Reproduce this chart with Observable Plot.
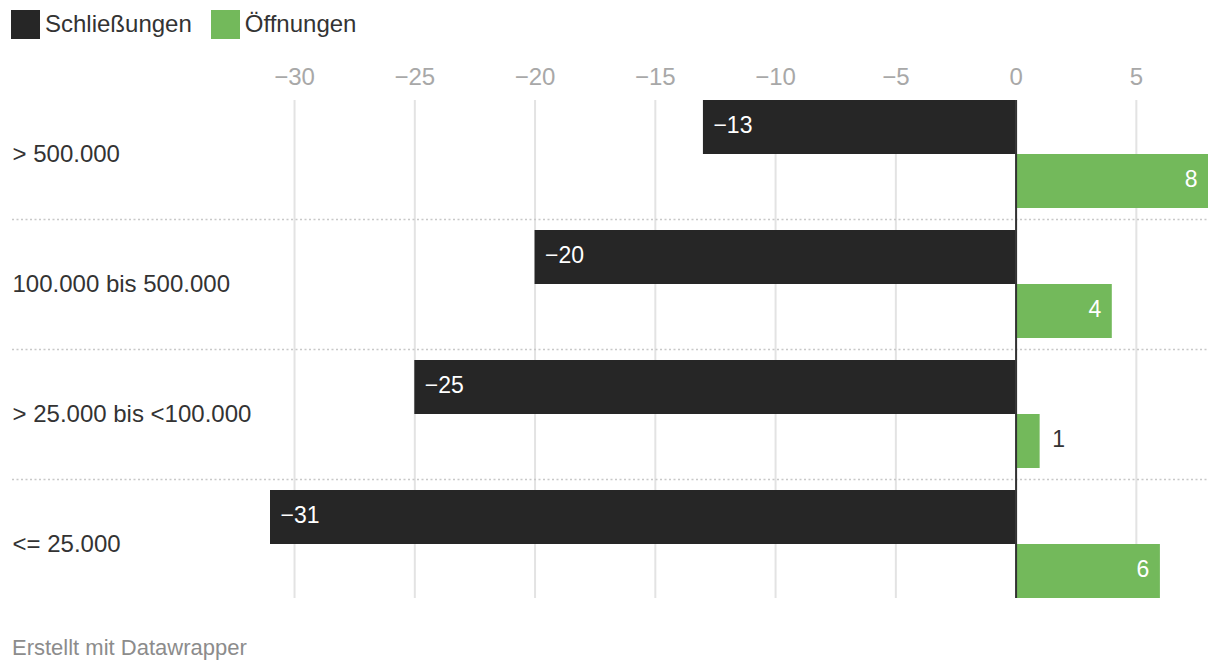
<!DOCTYPE html>
<html>
<head>
<meta charset="utf-8">
<script src="https://cdn.jsdelivr.net/npm/d3@7"></script>
<script src="https://cdn.jsdelivr.net/npm/@observablehq/plot@0.6"></script>
<style>
  html, body { margin: 0; padding: 0; background: #fff; }
  body { width: 1220px; height: 672px; position: relative; overflow: hidden;
         font-family: "Liberation Sans", Arial, Helvetica, sans-serif; }
  #legend { position: absolute; top: 0; left: 0; height: 48px; display: flex; align-items: center; }
  .item { display: flex; align-items: center; margin-right: 19px; font-size: 24px; color: #333; }
  .sw { width: 29px; height: 29px; margin-right: 5px; }
  .item:first-child { margin-left: 11px; }
  #chart { position: absolute; top: 52px; left: 0; }
  #footer { position: absolute; top: 635px; left: 12px; font-size: 22px; color: #8c8c8c; }
</style>
</head>
<body>
<div id="legend"></div>
<div id="chart"></div>
<div id="footer">Erstellt mit Datawrapper</div>
<script>
const categories = ["> 500.000", "100.000 bis 500.000", "> 25.000 bis <100.000", "<= 25.000"];
const closings = [-13, -20, -25, -31];
const openings = [8, 4, 1, 6];
const seriesNames = ["Schließungen", "Öffnungen"];
const seriesColors = ["#262626", "#73b95b"];
const xTicks = [-30, -25, -20, -15, -10, -5, 0, 5];

const closeData = categories.map((c, i) => ({category: c, value: closings[i]}));
const openData = categories.map((c, i) => ({category: c, value: openings[i]}));
const fmt = d3.format("d");

// legend
const legend = document.getElementById("legend");
seriesNames.forEach((s, i) => {
  const it = document.createElement("div");
  it.className = "item";
  it.innerHTML = `<span class="sw" style="background:${seriesColors[i]}"></span><span>${s}</span>`;
  legend.appendChild(it);
});

const chart = Plot.plot({
  width: 1220,
  height: 558,
  marginTop: 48,
  marginBottom: 12,
  marginLeft: 270,
  marginRight: 12,
  style: {fontFamily: "'Liberation Sans', Arial, Helvetica, sans-serif", fontSize: "24px", background: "#fff", color: "#333"},
  x: {domain: [-31, 8], axis: null, label: null},
  y: {domain: categories, paddingInner: 22 / 130, paddingOuter: 0, round: false, axis: null, label: null},
  marks: [
    Plot.gridX(xTicks, {stroke: "#e3e3e3", strokeOpacity: 1, strokeWidth: 2}),
    Plot.ruleY(categories.slice(0, -1), {dy: 65, insetLeft: -258, stroke: "#c8c8c8", strokeWidth: 1.5, strokeDasharray: "2,2.5"}),
    Plot.axisX(xTicks, {anchor: "top", tickSize: 0, tickPadding: 16, fontSize: 24, color: "#a8a8a8", label: null}),
    Plot.axisY({tickSize: 0, tickPadding: 0, textAnchor: "start", dx: -258, fontSize: 24, color: "#333", label: null}),
    Plot.barX(closeData, {x: "value", y: "category", fill: seriesColors[0], insetBottom: 54}),
    Plot.barX(openData, {x: "value", y: "category", fill: seriesColors[1], insetTop: 54}),
    Plot.ruleX([0], {stroke: "#333", strokeWidth: 2}),
    Plot.text(closeData, {x: "value", y: "category", text: d => fmt(d.value), dy: -29, dx: 10, textAnchor: "start", fill: "#fff", fontSize: 23}),
    Plot.text(openData.filter(d => d.value >= 2), {x: "value", y: "category", text: d => fmt(d.value), dy: 25, dx: -11, textAnchor: "end", fill: "#fff", fontSize: 23}),
    Plot.text(openData.filter(d => d.value < 2), {x: "value", y: "category", text: d => fmt(d.value), dy: 25, dx: 12, textAnchor: "start", fill: "#333", fontSize: 23})
  ]
});
document.getElementById("chart").appendChild(chart);
</script>
</body>
</html>
